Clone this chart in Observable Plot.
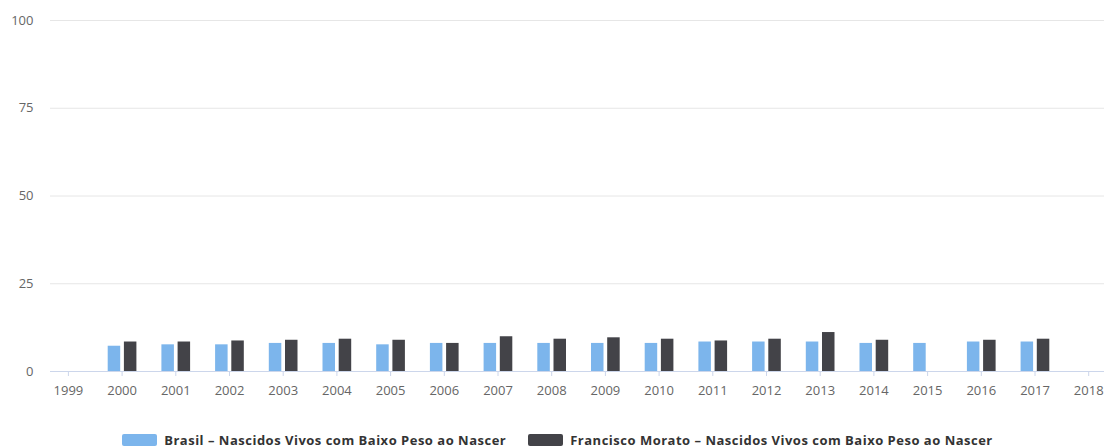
<!DOCTYPE html>
<html lang="pt-BR">
<head>
<meta charset="utf-8">
<script src="https://cdn.jsdelivr.net/npm/d3@7"></script>
<script src="https://cdn.jsdelivr.net/npm/@observablehq/plot@0.6"></script>
<style>
  body { margin: 0; background: #fff; font-family: "Open Sans", sans-serif; }
  #legend { display: flex; justify-content: center; gap: 22px; margin-top: 11.5px; padding-left: 11px;
            font-weight: bold; font-size: 13px; letter-spacing: 0.5px; line-height: 17px; color: #333; }
  .item { display: flex; align-items: center; gap: 7px; white-space: nowrap; }
  .swatch { width: 35px; height: 12px; border-radius: 2px; }
</style>
</head>
<body>
<div id="chart"></div>
<div id="legend"></div>
<script>
// Low birth weight live births (%), per year
const years = [1999, 2000, 2001, 2002, 2003, 2004, 2005, 2006, 2007, 2008, 2009,
               2010, 2011, 2012, 2013, 2014, 2015, 2016, 2017, 2018];
const brasil = [null, 7.2, 7.6, 7.6, 8.0, 8.0, 7.6, 8.0, 8.0, 8.0, 8.0,
                8.0, 8.4, 8.4, 8.4, 8.0, 8.0, 8.4, 8.4, null];
const morato = [null, 8.4, 8.4, 8.7, 8.9, 9.2, 8.9, 8.0, 9.9, 9.2, 9.6,
                9.2, 8.7, 9.2, 11.1, 8.9, null, 8.9, 9.2, null];
const seriesNames = [
  "Brasil – Nascidos Vivos com Baixo Peso ao Nascer",
  "Francisco Morato – Nascidos Vivos com Baixo Peso ao Nascer"
];
const colors = ["#7cb5ec", "#434348"];
const yTicks = [0, 25, 50, 75, 100];

const rows = (values) => years
  .map((year, i) => ({year, value: values[i]}))
  .filter((d) => d.value != null);

const chart = Plot.plot({
  width: 1104,
  height: 420,
  marginLeft: 50,
  marginRight: 0,
  marginTop: 20,
  marginBottom: 49,
  style: {fontFamily: "Open Sans, sans-serif", fontSize: "13px", background: "#fff"},
  x: {type: "band", domain: years, range: [41.05, 1115.05], padding: 0, round: false},
  y: {domain: [0, 100]},
  marks: [
    Plot.gridY(yTicks, {stroke: "#e6e6e6", strokeOpacity: 1}),
    Plot.barY(rows(brasil), {x: "year", y: "value", fill: colors[0], insetLeft: 12.95, insetRight: 28.25}),
    Plot.barY(rows(morato), {x: "year", y: "value", fill: colors[1], insetLeft: 29.15, insetRight: 12.05}),
    Plot.ruleY([0], {stroke: "#ccd6eb"}),
    Plot.axisX({tickSize: 5, tickPadding: 9, stroke: "#ccd6eb", fill: "#666", fontSize: 13,
                tickFormat: (d) => `${d}`, label: null}),
    Plot.axisY({ticks: yTicks, tickSize: 0, tickPadding: 17, fill: "#666", fontSize: 13, label: null})
  ]
});
document.getElementById("chart").append(chart);

const legend = document.getElementById("legend");
seriesNames.forEach((name, i) => {
  const item = document.createElement("div");
  item.className = "item";
  const sw = document.createElement("span");
  sw.className = "swatch";
  sw.style.background = colors[i];
  const label = document.createElement("span");
  label.textContent = name;
  item.append(sw, label);
  legend.append(item);
});
</script>
</body>
</html>
